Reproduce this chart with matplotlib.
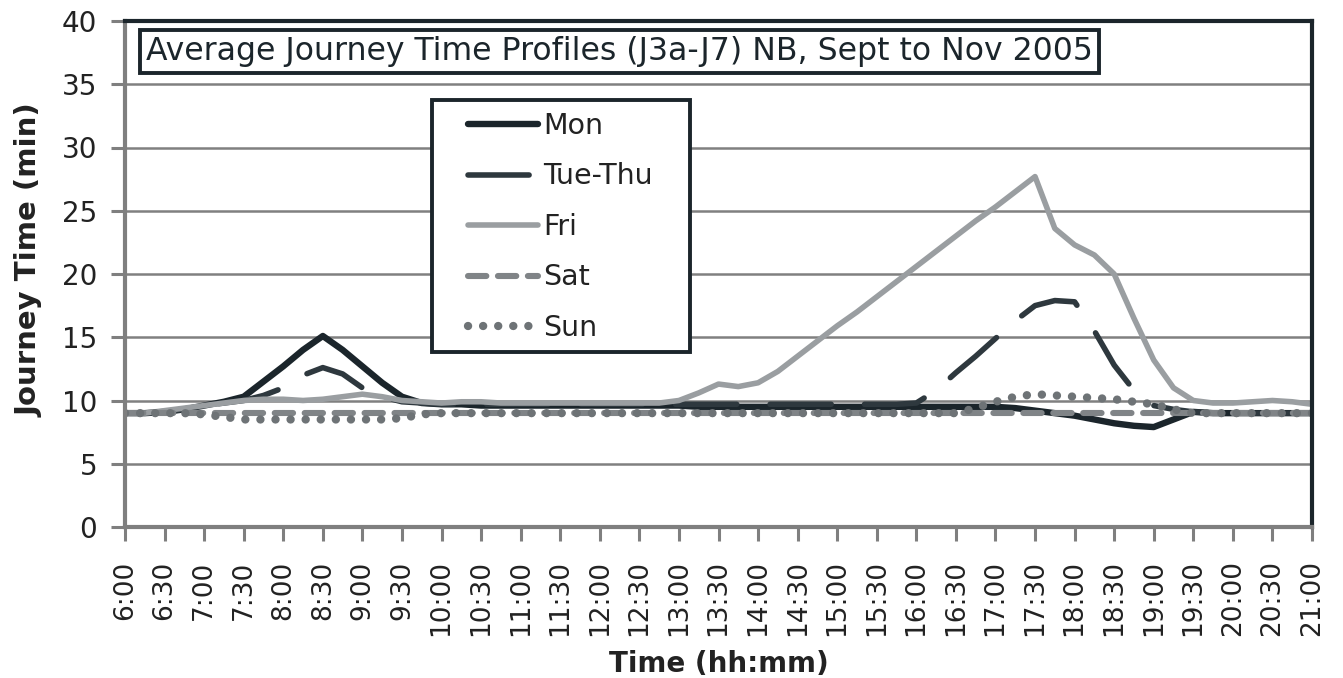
import matplotlib.pyplot as plt
from matplotlib.patches import Rectangle
import numpy as np

# quarter-hour steps from 6:00 to 21:00
quarters = list(range(61))

mon = [9.0, 9.0, 9.1, 9.3, 9.6, 9.9,
       10.3, 11.5, 12.7, 14.0, 15.1, 14.0, 12.7, 11.4, 10.3, 9.8,
       9.7, 9.7, 9.6, 9.6, 9.6, 9.6, 9.6, 9.6, 9.6, 9.6, 9.6, 9.6, 9.6, 9.5,
       9.5, 9.5, 9.5, 9.5, 9.5, 9.5, 9.5, 9.5, 9.5, 9.5, 9.5, 9.5, 9.5, 9.5,
       9.5, 9.4, 9.2, 9.0,
       8.8, 8.5, 8.2, 8.0, 7.9, 8.5, 9.1, 9.0, 9.0, 9.0, 9.0, 9.0, 9.0]
tue_thu = [9.0, 9.0, 9.1, 9.3, 9.6, 9.8,
           10.0, 10.4, 11.0, 12.0, 12.6, 12.1, 11.0, 10.3, 9.9, 9.8,
           9.7, 9.7, 9.7, 9.7, 9.7, 9.7, 9.7, 9.7, 9.7, 9.7, 9.7, 9.7,
           9.7, 9.7, 9.7, 9.7, 9.7, 9.7, 9.7, 9.7, 9.7, 9.7, 9.7, 9.7,
           9.8, 10.8, 12.2, 13.5, 14.9, 16.3, 17.5, 17.9, 17.8, 15.5, 12.8, 10.8, 9.6, 9.3, 9.1,
           9.0, 9.0, 9.0, 9.0, 9.0, 9.0]
fri = [9.0, 9.0, 9.2, 9.4, 9.6, 9.8, 10.0, 10.1, 10.1, 10.0, 10.1, 10.3, 10.5, 10.3, 10.0, 9.9,
       9.8, 9.9, 9.9, 9.8, 9.8, 9.8, 9.8, 9.8, 9.8, 9.8, 9.8, 9.8,
       10.0, 10.6, 11.3, 11.1, 11.4,
       12.3, 13.5, 14.7, 15.9, 17.0, 18.2, 19.4, 20.6, 21.8, 23.0, 24.2, 25.3, 26.5, 27.7,
       23.6, 22.3, 21.5, 20.0, 16.5, 13.2, 11.0, 10.0, 9.8, 9.8, 9.9, 10.0, 9.9, 9.7]
sat = [9.0, 9.0, 9.0, 9.0, 9.0, 9.0, 9.0, 9.0, 9.0, 9.0, 9.0, 9.0, 9.0, 9.0, 9.0, 9.0,
       9.0, 9.0, 9.0, 9.0, 9.0, 9.0, 9.0, 9.0, 9.0, 9.0, 9.0, 9.0, 9.0, 9.0,
       9.0, 9.0, 9.0, 9.0, 9.0, 9.0, 9.0, 9.0, 9.0, 9.0, 9.0, 9.0, 9.0, 9.0,
       9.0, 9.0, 9.0, 9.0, 9.0, 9.0, 9.0, 9.0, 9.0, 9.0, 9.0, 9.0, 9.0, 9.0, 9.0, 9.0, 9.0]
sun = [9.0, 9.0, 9.0, 9.0, 8.9, 8.7,
       8.5, 8.5, 8.5, 8.5, 8.5, 8.5, 8.5, 8.5, 8.6,
       8.9, 9.0, 9.0, 9.0, 9.0, 9.0, 9.0, 9.0, 9.0, 9.0, 9.0, 9.0, 9.0, 9.0,
       9.0, 9.0, 9.0, 9.0, 9.0, 9.0, 9.0, 9.0, 9.0, 9.0, 9.0, 9.0, 9.0, 9.0,
       9.4, 9.9, 10.3, 10.5, 10.4, 10.3, 10.2, 10.1, 9.9, 9.7, 9.3,
       9.0, 9.0, 9.0, 9.0, 9.0, 9.0, 9.0]

tick_labels = ["6:00", "6:30", "7:00", "7:30", "8:00", "8:30", "9:00", "9:30",
               "10:00", "10:30", "11:00", "11:30", "12:00", "12:30", "13:00", "13:30",
               "14:00", "14:30", "15:00", "15:30", "16:00", "16:30", "17:00", "17:30",
               "18:00", "18:30", "19:00", "19:30", "20:00", "20:30", "21:00"]
names = ["Mon", "Tue-Thu", "Fri", "Sat", "Sun"]

W, H = 1343, 678
fig = plt.figure(figsize=(W / 100, H / 100), dpi=100)
ax = fig.add_axes([125 / W, 1 - 527 / H, 1187 / W, 506 / H])

x = np.array(quarters) / 2.0  # in half-hour tick units

ax.plot(x, mon, color='#1b252b', linewidth=4.6, solid_capstyle='round', label=names[0])
ax.plot(x, tue_thu, color='#2e383e', linewidth=4.0, linestyle=(0, (11, 6)),
        dash_capstyle='round', label=names[1])
ax.plot(x, fri, color='#9a9ea1', linewidth=4.0, solid_capstyle='round', label=names[2])
ax.plot(x, sat, color='#808487', linewidth=4.4, linestyle=(0, (3.0, 1.9)),
        dash_capstyle='round', label=names[3])
ax.plot(x, sun, color='#6e7376', linewidth=6.0, linestyle=(0, (0.01, 1.8)),
        dash_capstyle='round', label=names[4])

ax.set_xlim(0, 30)
ax.set_ylim(0, 40)
ax.set_yticks(np.arange(0, 41, 5))
ax.set_xticks(range(len(tick_labels)))
ax.set_xticklabels(tick_labels, rotation=90, fontsize=19, color='#222222')
ax.tick_params(axis='y', labelsize=20, labelcolor='#222222', pad=10)
ax.tick_params(axis='x', pad=14)
ax.tick_params(axis='both', direction='out', length=10, width=2.2, color='#7f7f7f')

ax.grid(True, axis='y', color='#808080', linewidth=1.8)
ax.set_axisbelow(True)

for side in ['left', 'bottom']:
    ax.spines[side].set_color('#7f7f7f')
    ax.spines[side].set_linewidth(3)
for side in ['top', 'right']:
    ax.spines[side].set_color('#1b252b')
    ax.spines[side].set_linewidth(3)

ax.set_ylabel("Journey Time (min)", fontsize=21, fontweight='semibold', color='#222222')
ax.yaxis.set_label_coords(-0.069, 0.528)
ax.set_xlabel("Time (hh:mm)", fontsize=20, fontweight='semibold', color='#222222')
ax.xaxis.set_label_coords(0.5, -0.243)

ax.text(0.0177, 0.9397, "Average Journey Time Profiles (J3a-J7) NB, Sept to Nov 2005",
        transform=ax.transAxes, fontsize=22.7, color='#1b252b', va='center', ha='left',
        bbox=dict(boxstyle='square,pad=0.18', facecolor='white', edgecolor='#1b252b', linewidth=2.8))

# legend frame drawn separately so the padding can differ per side
ax.add_patch(Rectangle((432 / W, 1 - 352 / H), 258 / W, 252 / H, transform=fig.transFigure,
                       facecolor='white', edgecolor='#1b252b', linewidth=2.8, zorder=4,
                       clip_on=False))
leg = ax.legend(loc='upper left', bbox_to_anchor=(468 / W, 1 - 112 / H),
                bbox_transform=fig.transFigure, fontsize=20.5, frameon=False,
                handlelength=2.45, handletextpad=0.18, labelspacing=0.79, borderpad=0,
                borderaxespad=0)
leg.set_zorder(5)
for t in leg.get_texts():
    t.set_color('#222222')

fig.savefig("out.png", dpi=100)
